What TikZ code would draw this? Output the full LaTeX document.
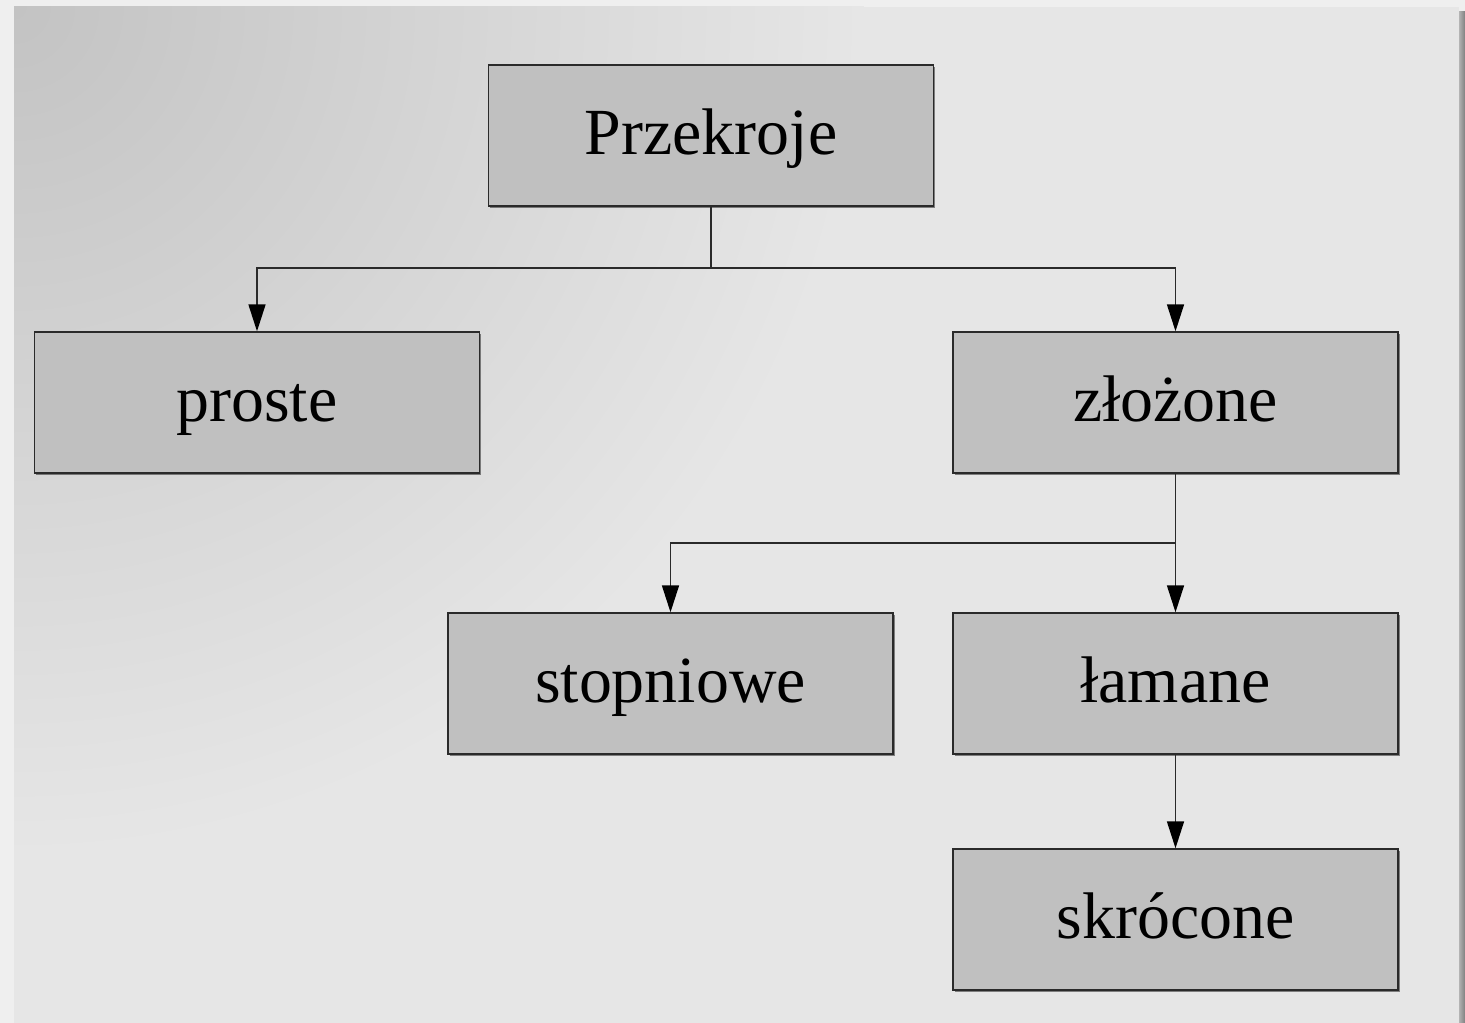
\documentclass[tikz,border=0pt]{standalone}
\usepackage{fontspec}
\setmainfont{Liberation Serif}
\usetikzlibrary{arrows.meta,shadows}
\definecolor{boxfill}{HTML}{C0C0C0}
\definecolor{frame}{HTML}{EFEFEF}
\definecolor{bglight}{HTML}{E6E6E6}
\definecolor{bgdark}{HTML}{C3C3C3}
\definecolor{linec}{HTML}{2A2A2A}
\begin{document}
\begin{tikzpicture}[x=0.02cm,y=-0.02cm,
  box/.style={draw=linec, line width=0.8pt, fill=boxfill,
    minimum width=8.9cm, minimum height=2.82cm, inner sep=0pt,
    text height=0.78cm, text depth=0pt,
    font=\fontsize{37.5}{45}\selectfont,
    drop shadow={shadow xshift=0.035cm, shadow yshift=-0.035cm, opacity=0.45, fill=black}},
  conn/.style={draw=linec, line width=0.9pt},
  arr/.style={conn, -{Triangle[length=0.54cm, width=0.34cm, color=black]}}]
  % background
  \fill[frame] (0,0) rectangle (1465,1023);
  \useasboundingbox (0,0) rectangle (1465,1023);
  \fill[bglight] (14,7) rectangle (1459,1023);
  \begin{scope}
    \clip (14,7) rectangle (1459,1023);
    \shade[inner color=bgdark, outer color=bglight] (14,7) circle (17cm);
  \end{scope}
  \shade[left color=black!30, right color=black!50] (1459,12) rectangle (1465,1023);
  % nodes
  \node[box] (prz) at (711,135.5) {Przekroje};
  \node[box] (pro) at (257,402.5) {proste};
  \node[box] (zlo) at (1175.5,402.5) {złożone};
  \node[box] (sto) at (670.5,683.5) {stopniowe};
  \node[box] (lam) at (1175.5,683.5) {łamane};
  \node[box] (skr) at (1175.5,919.5) {skrócone};
  % connectors
  \coordinate (j1) at (711,268);
  \coordinate (j2) at (1175.5,543);
  \draw[conn] (prz.south) -- (j1);
  \draw[arr] (j1) -| (pro.north);
  \draw[arr] (j1) -| (zlo.north);
  \draw[arr] (zlo.south) -- (lam.north);
  \draw[arr] (j2) -| (sto.north);
  \draw[arr] (lam.south) -- (skr.north);
\end{tikzpicture}
\end{document}
